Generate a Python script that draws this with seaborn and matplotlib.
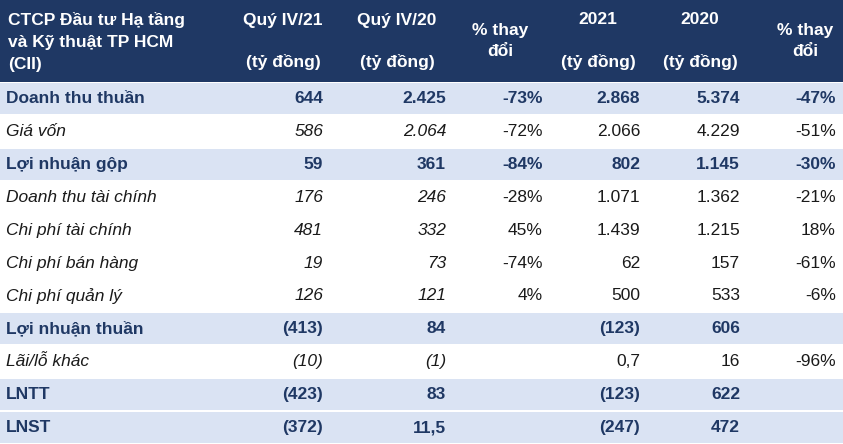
import matplotlib
matplotlib.use("Agg")
import matplotlib.pyplot as plt
import seaborn as sns
from matplotlib.patches import Rectangle

sns.set_theme(style="white")
plt.rcParams['font.family'] = ['Liberation Sans', 'DejaVu Sans']

headers = ["CTCP Đầu tư Hạ tầng\nvà Kỹ thuật TP HCM\n(CII)", "Quý IV/21\n(tỷ đồng)", "Quý IV/20\n(tỷ đồng)",
           "% thay\nđổi", "2021\n(tỷ đồng)", "2020\n(tỷ đồng)", "% thay\nđổi"]
labels = ["Doanh thu thuần", "Giá vốn", "Lợi nhuận gộp", "Doanh thu tài chính", "Chi phí tài chính",
          "Chi phí bán hàng", "Chi phí quản lý", "Lợi nhuận thuần", "Lãi/lỗ khác", "LNTT", "LNST"]
q421 = ["644", "586", "59", "176", "481", "19", "126", "(413)", "(10)", "(423)", "(372)"]
q420 = ["2.425", "2.064", "361", "246", "332", "73", "121", "84", "(1)", "83", "11,5"]
chg_q = ["-73%", "-72%", "-84%", "-28%", "45%", "-74%", "4%", "", "", "", ""]
y2021 = ["2.868", "2.066", "802", "1.071", "1.439", "62", "500", "(123)", "0,7", "(123)", "(247)"]
y2020 = ["5.374", "4.229", "1.145", "1.362", "1.215", "157", "533", "606", "16", "622", "472"]
chg_y = ["-47%", "-51%", "-30%", "-21%", "18%", "-61%", "-6%", "", "-96%", "", ""]
bold = [True, False, True, False, False, False, False, True, False, True, True]

fig = plt.figure(figsize=(8.43, 4.44), dpi=100)
ax = fig.add_axes([0, 0, 1, 1])
ax.set_xlim(0, 843); ax.set_ylim(444, 0); ax.axis("off")

navy = "#1F3864"; light = "#DAE3F3"; txt = "#1F3864"
ax.add_patch(Rectangle((0, 0), 843, 82, color=navy, lw=0))
hx = [8, 283, 397, 500, 598, 700, 805]
for i, h in enumerate(headers):
    lines = h.split("\n")
    if i == 0:
        ys = [20, 42, 64]
    elif i in (3, 6):
        ys = [30, 52]
    else:
        ys = [20, 62]
    for ln, yy in zip(lines, ys):
        ax.text(hx[i], yy, ln, ha="left" if i == 0 else "center", va="center",
                color="white", fontsize=12.5, fontweight="bold")

top = 82; rh = (444 - 82) / 11
cols = [q421, q420, chg_q, y2021, y2020, chg_y]
rx = [323, 446, 543, 640, 740, 836]
for r in range(11):
    y0 = top + r * rh
    if bold[r]:
        ax.add_patch(Rectangle((0, y0 + 1), 843, rh - 2, color=light, lw=0))
    yc = y0 + rh / 2
    fw = "bold" if bold[r] else "normal"
    st = "normal" if bold[r] else "italic"
    ax.text(6, yc, labels[r], ha="left", va="center", color="#1a1a1a" if not bold[r] else txt,
            fontsize=12.5, fontweight=fw, fontstyle=st)
    for c, col in enumerate(cols):
        italic = (not bold[r]) and c in (0, 1)
        ax.text(rx[c], yc, col[r], ha="right", va="center", color="#1a1a1a" if not bold[r] else txt,
                fontsize=12.5, fontweight=fw, fontstyle="italic" if italic else "normal")

fig.savefig("out.png", dpi=100)
